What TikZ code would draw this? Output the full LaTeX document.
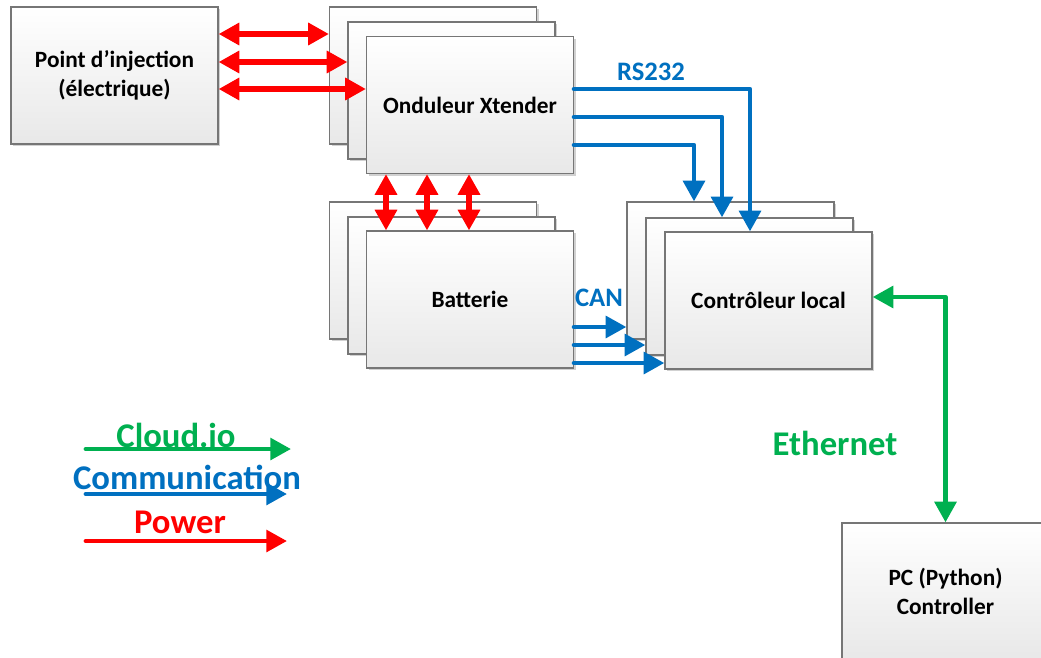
\documentclass[tikz,border=0pt]{standalone}
\usepackage{fontspec}
\setmainfont{Carlito}
\usetikzlibrary{arrows.meta,shadows}
\definecolor{pwred}{RGB}{255,0,0}
\definecolor{comblue}{RGB}{0,112,192}
\definecolor{cloudgreen}{RGB}{0,176,80}
\definecolor{boxline}{RGB}{118,118,118}
\begin{document}
\begin{tikzpicture}[x=0.75pt,y=-0.75pt,
  box/.style={draw=boxline, line width=0.9pt, top color=white, bottom color=black!9,
    minimum width=155.25pt, minimum height=102.75pt, inner sep=0pt, align=center,
    font=\fontsize{17.5}{21.5}\selectfont\bfseries,
    drop shadow={shadow xshift=1.6pt, shadow yshift=-1.6pt, fill=black!18, opacity=1}},
  tipA/.tip={Triangle[length=15.5pt,width=16pt]},
  pwline/.style={draw=pwred, line width=4pt, tipA-tipA},
  comline/.style={draw=comblue, line width=3.6pt, line cap=round, line join=round, -tipA},
  ethline/.style={draw=cloudgreen, line width=3.6pt, line join=round, tipA-tipA},
  lgarrow/.style={line width=3.6pt, line cap=round, -tipA},
  bigtxt/.style={font=\fontsize{26}{30}\selectfont\bfseries, inner sep=0pt},
  midtxt/.style={font=\fontsize{20}{24}\selectfont\bfseries, inner sep=0pt, text=comblue}]
\useasboundingbox (0,0) rectangle (1041,657);
\fill[white] (0,0) rectangle (1041,657);
\clip (0,0) rectangle (1041,657);

% boxes
\node[box] (inj) at (114.5,75.5) {Point d’injection\\(électrique)};
\node[box] (ond1) at (433,75.5) {};
\node[box] (ond2) at (451.5,90.5) {};
\node[box] (ond3) at (470,105) {Onduleur Xtender};
\node[box] (bat1) at (433,270.5) {};
\node[box] (bat2) at (451.5,285.5) {};
\node[box] (bat3) at (470,299.5) {Batterie};
\node[box] (ctl1) at (730.5,270.5) {};
\node[box] (ctl2) at (749.5,286.5) {};
\node[box] (ctl3) at (768.5,300.5) {Contrôleur local};
\node[box] (pc) at (945.5,591.5) {PC (Python)\\Controller};

% power links
\draw[pwline] (inj.east |- 0,34) -- (ond1.west |- 0,34);
\draw[pwline] (inj.east |- 0,62) -- (ond2.west |- 0,62);
\draw[pwline] (inj.east |- 0,89) -- (ond3.west |- 0,89);
\draw[pwline] (ond3.south -| 386,0) -- (bat3.north -| 386,0);
\draw[pwline] (ond3.south -| 427,0) -- (bat3.north -| 427,0);
\draw[pwline] (ond3.south -| 469,0) -- (bat3.north -| 469,0);

% RS232 links
\draw[comline] (ond3.east |- 0,89) -| (ctl3.north -| 750,0);
\draw[comline] (ond3.east |- 0,117) -| (ctl2.north -| 722,0);
\draw[comline] (ond3.east |- 0,145) -| (ctl1.north -| 694,0);
\node[midtxt] (rs) at (651,72) {RS232};

% CAN links
\draw[comline] (bat3.east |- 0,327) -- (ctl1.west |- 0,327);
\draw[comline] (bat3.east |- 0,345) -- (ctl2.west |- 0,345);
\draw[comline] (bat3.east |- 0,363) -- (ctl3.west |- 0,363);
\node[midtxt] (can) at (599,298) {CAN};

% Ethernet
\draw[ethline] (ctl3.east |- 0,297) -| (pc.north);
\node[bigtxt, text=cloudgreen] (ethl) at (835,443) {Ethernet};

% legend
\coordinate (g1) at (86,449); \coordinate (g2) at (291,449);
\coordinate (b1) at (86,494); \coordinate (b2) at (287,494);
\coordinate (r1) at (86,541); \coordinate (r2) at (287,541);
\draw[lgarrow, draw=cloudgreen] (g1) -- (g2);
\draw[lgarrow, draw=comblue] (b1) -- (b2);
\draw[lgarrow, draw=pwred] (r1) -- (r2);
\node[bigtxt, text=cloudgreen] (lcloud) at (176,435) {Cloud.io};
\node[bigtxt, text=comblue] (lcomm) at (187,477) {Communication};
\node[bigtxt, text=pwred] (lpow) at (180,522) {Power};
\end{tikzpicture}
\end{document}
